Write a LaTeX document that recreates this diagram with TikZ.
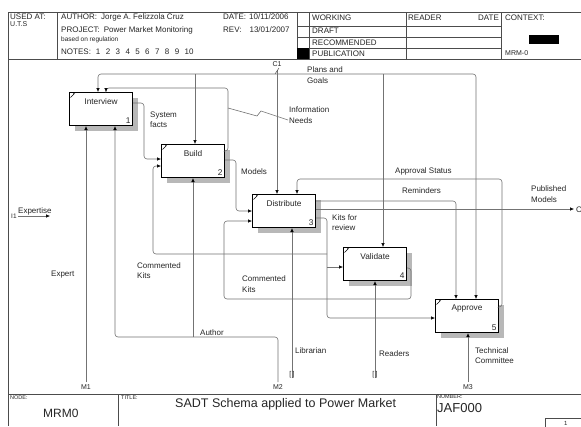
\documentclass[tikz,border=0pt]{standalone}
\usepackage{fontspec}
\setmainfont{Liberation Sans}
\usetikzlibrary{arrows.meta,shadows}
\begin{document}
\begin{tikzpicture}[x=1pt,y=-1pt,
  frame/.style={draw=black!70, line width=0.6pt},
  flow/.style={draw=black!55, line width=0.6pt, rounded corners=3pt},
  aflow/.style={flow, -{Latex[length=4pt,width=3.6pt,color=black]}},
  box/.style={draw=black, line width=1.1pt, fill=white, minimum width=63pt, minimum height=33pt, inner sep=0pt, anchor=north west,
    drop shadow={shadow xshift=5pt,shadow yshift=-5pt,fill=black!28,opacity=1}},
  btxt/.style={font=\fontsize{8.3}{10}\selectfont, inner sep=0pt, text=black!85},
  lbl/.style={font=\fontsize{8}{10.5}\selectfont, inner sep=0pt, align=left, anchor=west, text=black!85},
  hdr/.style={font=\fontsize{8}{9}\selectfont, inner sep=0pt, anchor=west, text=black!85},
  small/.style={font=\fontsize{5.5}{6}\selectfont, inner sep=0pt, anchor=west, text=black!85},
  mlbl/.style={font=\fontsize{7}{8}\selectfont, inner sep=0pt, text=black!85},
]
\useasboundingbox (0,0) rectangle (581,426);
\fill[white] (0,0) rectangle (581,426);

% ---------- header frame ----------
\draw[frame] (8,12) -- (581,12);
\draw[frame] (8,59) -- (581,59);
\draw[frame] (8,12) -- (8,426);
\draw[frame] (57,12) -- (57,59);
\draw[frame] (297,12) -- (297,59);
\draw[frame] (309,12) -- (309,59);
\draw[frame] (406,12) -- (406,59);
\draw[frame] (501,12) -- (501,59);
\draw[frame] (297,26) -- (501,26);
\draw[frame] (297,37) -- (501,37);
\draw[frame] (297,48) -- (501,48);
\fill[black] (297,48) rectangle (309,59);
\fill[black] (529,35) rectangle (559,44);

\node[hdr] (hUsed) at (10,17) {USED AT:};
\node[hdr, font=\fontsize{7}{8}\selectfont] (hUts) at (10,24) {U.T.S};
\node[hdr] (hAuthor) at (61,17) {AUTHOR:\hspace{4pt}Jorge A. Felizzola Cruz};
\node[hdr] (hDate) at (223,17) {DATE:\hspace{3pt}10/11/2006};
\node[hdr] (hProject) at (61,30) {PROJECT:\hspace{4pt}Power Market Monitoring};
\node[hdr] (hRev) at (223,30) {REV:\hspace{8pt}13/01/2007};
\node[hdr, font=\fontsize{6.5}{7}\selectfont] (hBased) at (61,40) {based on regulation};
\node[hdr] (hNotes) at (61,52) {NOTES:\hspace{5pt}1\hspace{5.4pt}2\hspace{5.4pt}3\hspace{5.4pt}4\hspace{5.4pt}5\hspace{5.4pt}6\hspace{5.4pt}7\hspace{5.4pt}8\hspace{5.4pt}9\hspace{5.4pt}10};
\node[hdr] (hWorking) at (312,18) {WORKING};
\node[hdr] (hDraft) at (312,31) {DRAFT};
\node[hdr] (hRecommended) at (312,42.5) {RECOMMENDED};
\node[hdr] (hPublication) at (312,53.5) {PUBLICATION};
\node[hdr] (hReader) at (408,18) {READER};
\node[hdr] (hDate2) at (478,18) {DATE};
\node[hdr] (hContext) at (505,18) {CONTEXT:};
\node[hdr, font=\fontsize{7}{8}\selectfont] (hMrm) at (505,53) {MRM-0};

% ---------- footer ----------
\draw[frame] (8,394) -- (581,394);
\draw[frame] (118,394) -- (118,426);
\draw[frame] (436,394) -- (436,426);
\draw[frame] (545,426.5) -- (545,418) -- (582,418);
\node[small] (fNode) at (10,398) {NODE:};
\node[hdr, font=\fontsize{12}{13}\selectfont] (fMrm) at (43,413) {MRM0};
\node[small] (fTitle) at (121,398) {TITLE:};
\node[hdr, font=\fontsize{12.5}{14}\selectfont] (fTitleText) at (175,404) {SADT Schema applied to Power Market};
\node[small] (fNumber) at (437,397) {NUMBER:};
\node[hdr, font=\fontsize{13}{14}\selectfont] (fJaf) at (437,408) {JAF000};
\node[small, font=\fontsize{6}{7}\selectfont] (fPage) at (564,423) {1};

% ---------- activity boxes ----------
\foreach \nm/\x/\y/\t/\k in {interview/69/92/Interview/1, build/161/144/Build/2, distribute/252/194/Distribute/3, validate/343/247/Validate/4, approve/435/299/Approve/5}{
  \node[box] (\nm) at (\x,\y) {};
  \node[btxt] (\nm L) at ([yshift=-10pt]\nm.north) {\t};
  \node[btxt, anchor=south east] (\nm N) at ([shift={(-2.5pt,2.5pt)}]\nm.south east) {\k};
  \draw[black, line width=0.5pt] ([shift={(1.5pt,-5.5pt)}]\nm.north west) -- ++(4pt,4pt) -- ++(-1.5pt,0pt);
}

% ---------- named junctions / free ends ----------
\coordinate (c1) at (277,70);
\coordinate (busJ) at (277,74);
\coordinate (m1) at (86,382);
\coordinate (m2) at (278,382);
\coordinate (m3) at (468,382);
\coordinate (libEnd) at (292,378);
\coordinate (readEnd) at (375,378);
\coordinate (i1) at (18,216);
\coordinate (i1End) at (50,216);
\coordinate (o1) at (574,209);

% ---------- controls ----------
\draw[aflow] (c1) -- (c1 |- distribute.north);
\draw[black!70, line width=0.5pt] (275,74) -- (279,68);
\draw[aflow] (busJ) -- (98,74) -- (98,74 |- interview.north);
\draw[aflow] (busJ) -- (476,74) -- (476,74 |- approve.north);
\draw[aflow] (195,74) -- (195,74 |- build.north);
\draw[aflow] (383,74) -- (383,74 |- validate.north);

% Information Needs (Build -> Interview)
\draw[aflow] (build.east |- 0,151) -- (228,151) -- (228,88) -- (106,88) -- (106,88 |- interview.north);
\draw[flow, rounded corners=0pt] (228,108) -- (257,116) -- (261,111) -- (288,120);

% System facts (Interview -> Build)
\draw[aflow] (interview.east |- 0,103) -- (144,103) -- (144,159) -- (144,159 -| build.west);

% Models (Build -> Distribute)
\draw[aflow] (build.east |- 0,160) -- (236,160) -- (236,211) -- (236,211 -| distribute.west);

% Kits for review (Distribute -> Validate, Approve, Build)
\draw[aflow] (distribute.east |- 0,218) -- (327,218) -- (327,318) -- (327,318 -| approve.west);
\draw[aflow] (327,267) -- (327,267 -| validate.west);
\draw[aflow] (327,254) -- (153,254) -- (153,166) -- (153,166 -| build.west);

% Commented Kits (Validate -> Distribute)
\draw[aflow] (validate.east |- 0,268) -- (411,268) -- (411,299) -- (224,299) -- (224,221) -- (224,221 -| distribute.west);

% Published Models
\draw[aflow] (distribute.east |- 0,209) -- (o1);
% Reminders
\draw[aflow] (distribute.east |- 0,201) -- (456,201) -- (456,201 |- approve.north);
% Approval Status
\draw[aflow] (approve.east |- 0,307) -- (502,307) -- (502,179) -- (297,179) -- (297,179 |- distribute.north);

% ---------- mechanisms ----------
\draw[aflow] (m1) -- (m1 |- interview.south);
\draw[aflow] (m2) -- (278,337) -- (115,337) -- (115,337 |- interview.south);
\draw[aflow] (193,337) -- (193,337 |- build.south);
\draw[aflow] (libEnd) -- (libEnd |- distribute.south);
\draw[aflow] (readEnd) -- (readEnd |- validate.south);
\draw[aflow] (m3) -- (m3 |- approve.south);

% Expertise input
\draw[aflow] (i1) -- (i1End);

% ---------- labels ----------
\node[mlbl] (c1L) at (277,64) {C1};
\node[mlbl] (m1L) at (86,387.5) {M1};
\node[mlbl] (m2L) at (278,387.5) {M2};
\node[mlbl] (m3L) at (468,387.5) {M3};
\node[mlbl] (libT) at (292,375) {[\,]};
\node[mlbl] (readT) at (375,375) {[\,]};
\node[mlbl, anchor=west, font=\fontsize{6.5}{7}\selectfont] (i1L) at (11,216.5) {I1};
\node[lbl] (expertiseL) at (18,211) {Expertise};
\node[lbl] (o1L) at (576,209.5) {O};

\node[lbl] (sysL) at (150,119.5) {System\\facts};
\node[lbl] (infoL) at (289,115) {Information\\Needs};
\node[lbl] (plansL) at (307,75) {Plans and\\Goals};
\node[lbl] (modelsL) at (241,172) {Models};
\node[lbl] (apprL) at (395,171) {Approval Status};
\node[lbl] (remL) at (402,191) {Reminders};
\node[lbl] (pubL) at (531,194) {Published\\Models};
\node[lbl] (kitsL) at (332,222.5) {Kits for\\review};
\node[lbl] (ck1L) at (137,270.5) {Commented\\Kits};
\node[lbl] (ck2L) at (242,284) {Commented\\Kits};
\node[lbl] (expertL) at (51,275) {Expert};
\node[lbl] (authorL) at (200,333) {Author};
\node[lbl] (libL) at (295,351) {Librarian};
\node[lbl] (readL) at (379,354) {Readers};
\node[lbl] (techL) at (475,355.5) {Technical\\Committee};
\end{tikzpicture}
\end{document}
